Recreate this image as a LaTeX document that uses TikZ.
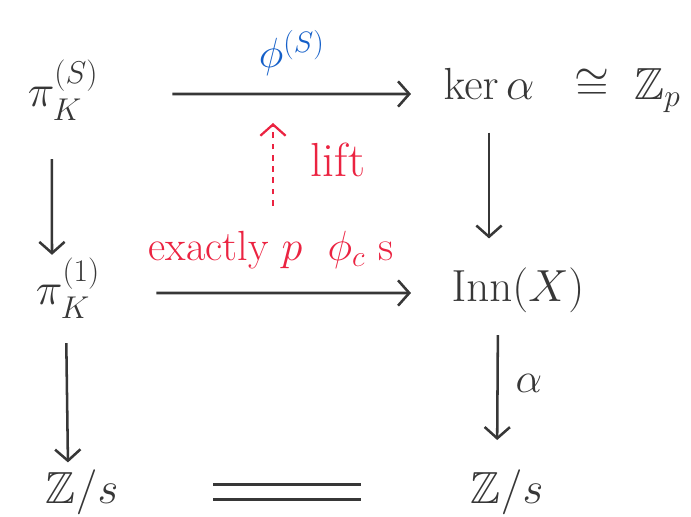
\documentclass[tikz,border=0pt]{standalone}
\usepackage{fix-cm}
\usepackage{amsmath,amssymb}
\usepackage{xcolor}
\usepackage{tikz}
\usetikzlibrary{arrows.meta,positioning}

\definecolor{pencil}{RGB}{55,55,55}
\definecolor{liftred}{RGB}{235,35,65}
\definecolor{phiblue}{RGB}{20,95,200}

\begin{document}
\begin{tikzpicture}[
  obj/.style={font=\fontsize{32}{38}\selectfont, text=pencil, inner sep=2pt},
  arr/.style={-{Straight Barb[length=8pt,width=18pt]}, line width=1.8pt, draw=pencil},
  liftarr/.style={-{Straight Barb[length=8pt,width=18pt]}, line width=1.6pt,
                  draw=liftred, dash pattern=on 4pt off 4pt},
  lbl/.style={font=\fontsize{30}{36}\selectfont, inner sep=2pt}
]
\useasboundingbox (0,0) rectangle (17.275,12.9);

\node[obj] (pis)   at (1.575,10.65) {$\pi_K^{(S)}$};
\node[obj] (ker)   at (12.225,10.8) {$\ker\alpha$};
\node[obj, anchor=base west] (zp) at ([xshift=0.85cm]ker.base east) {$\cong\;\mathbb{Z}_p$};
\node[obj] (pione) at (1.7,5.7)     {$\pi_K^{(1)}$};
\node[obj] (inn)   at (12.95,5.65)  {$\mathrm{Inn}(X)$};
\node[obj] (zsl)   at (2.05,0.6)    {$\mathbb{Z}/s$};
\node[obj] (zsr)   at (12.675,0.6)  {$\mathbb{Z}/s$};
\node[lbl, text=liftred] (exact) at (6.775,6.65) {exactly $p$~~$\phi_c$ s};
\coordinate (liftend) at (6.825,9.825);

\draw[arr] ([shift={(1.78,-0.1)}]pis.east) -- ([shift={(-0.74,-0.25)}]ker.west)
  node[lbl, midway, above=0.35cm, text=phiblue] {$\phi^{(S)}$};
\draw[arr] ([shift={(1.33,-0.125)}]pione.east) -- ([shift={(-0.94,-0.075)}]inn.west);
\draw[arr, shorten <=0.9cm] ([xshift=-0.28cm]pis.south) -- ([xshift=-0.4cm]pione.north);
\draw[arr, shorten <=0.75cm, shorten >=0.65cm] (ker.south) -- (ker.south |- inn.north);
\draw[arr, shorten <=0.55cm, shorten >=0.1cm] ([xshift=-0.05cm]pione.south) -- ([xshift=-0.35cm]zsl.north);
\draw[arr, shorten <=0.49cm, shorten >=0.66cm] ([xshift=-0.5cm]inn.south) -- ([xshift=-0.25cm]zsr.north)
  node[lbl, pos=0.45, right, xshift=0.35cm, text=pencil] {$\alpha$};
\draw[pencil, line width=1.6pt, double, double distance=0.32cm, shorten <=2.3cm, shorten >=2.67cm] (zsl) -- (zsr);
\draw[liftarr, shorten <=0.56cm] (exact.north -| liftend) -- (liftend)
  node[lbl, font=\fontsize{34}{40}\selectfont, midway, right, xshift=0.85cm, yshift=0.4cm, text=liftred] {lift};
\end{tikzpicture}
\end{document}
